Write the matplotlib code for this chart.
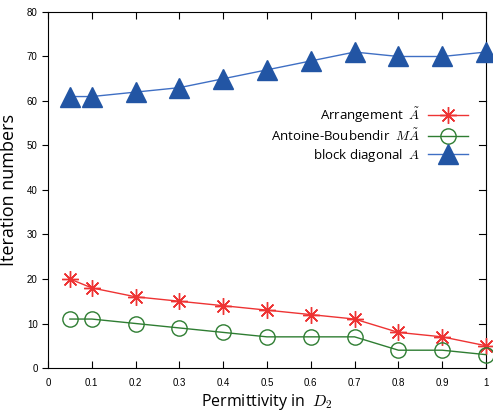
import matplotlib
matplotlib.use("Agg")
import matplotlib.pyplot as plt

x = [0.05, 0.1, 0.2, 0.3, 0.4, 0.5, 0.6, 0.7, 0.8, 0.9, 1.0]
arrangement = [20, 18, 16, 15, 14, 13, 12, 11, 8, 7, 5]
antoine = [11, 11, 10, 9, 8, 7, 7, 7, 4, 4, 3]
block_diag = [61, 61, 62, 63, 65, 67, 69, 71, 70, 70, 71]

xticks = [0, 0.1, 0.2, 0.3, 0.4, 0.5, 0.6, 0.7, 0.8, 0.9, 1]
xticklabels = ["0", "0.1", "0.2", "0.3", "0.4", "0.5", "0.6", "0.7", "0.8", "0.9", "1"]
yticks = [0, 10, 20, 30, 40, 50, 60, 70, 80]

plt.rcParams['font.family'] = ['Open Sans', 'DejaVu Sans']
plt.rcParams['mathtext.fontset'] = 'cm'

fig = plt.figure(figsize=(4.93, 4.15), dpi=100)
ax = fig.add_axes([48/493, 1-368/415, (486-48)/493, (368-12)/415])

ax.plot(x, arrangement, color='#ee3333', lw=1.0, marker=(8, 2, 0), ms=12,
        mew=1.0, label=r"Arrangement  $\tilde{A}$", clip_on=False, zorder=3)
ax.plot(x, antoine, color='#2e7d32', lw=1.0, marker='o', ms=11, mfc='none',
        mew=1.0, label=r"Antoine-Boubendir  $M\tilde{A}$", clip_on=False, zorder=3)
ax.plot(x, block_diag, color='#3f6fc4', lw=1.0, marker='^', ms=14, mfc='#2255a4',
        mec='#2255a4', label=r"block diagonal  $A$", clip_on=False, zorder=3)

ax.set_xlim(0, 1)
ax.set_ylim(0, 80)
ax.set_xticks(xticks)
ax.set_xticklabels(xticklabels, family=['Liberation Sans'])
ax.set_yticks(yticks)
ax.set_yticklabels([str(v) for v in yticks], family=['Liberation Sans'])
ax.tick_params(axis='x', direction='in', top=True, length=5, labelsize=7, pad=7)
ax.tick_params(axis='y', direction='out', right=False, length=4, labelsize=7)
for yv in yticks[1:-1]:
    ax.plot([1, 0.985], [yv, yv], color='black', lw=0.8,
            transform=ax.get_yaxis_transform(), clip_on=False)

ax.set_xlabel(r"Permittivity in  $D_2$", fontsize=11.5, labelpad=3)
ax.set_ylabel("Iteration numbers", fontsize=13, labelpad=6)

leg = ax.legend(loc='upper right', bbox_to_anchor=(0.985, 0.77), frameon=False,
                markerfirst=False, fontsize=9.5, handlelength=3.0,
                handletextpad=0.6, labelspacing=0.2)
try:
    for col in leg._legend_handle_box.get_children():
        col.align = 'right'
except Exception:
    pass

fig.savefig("out.png", dpi=100)
